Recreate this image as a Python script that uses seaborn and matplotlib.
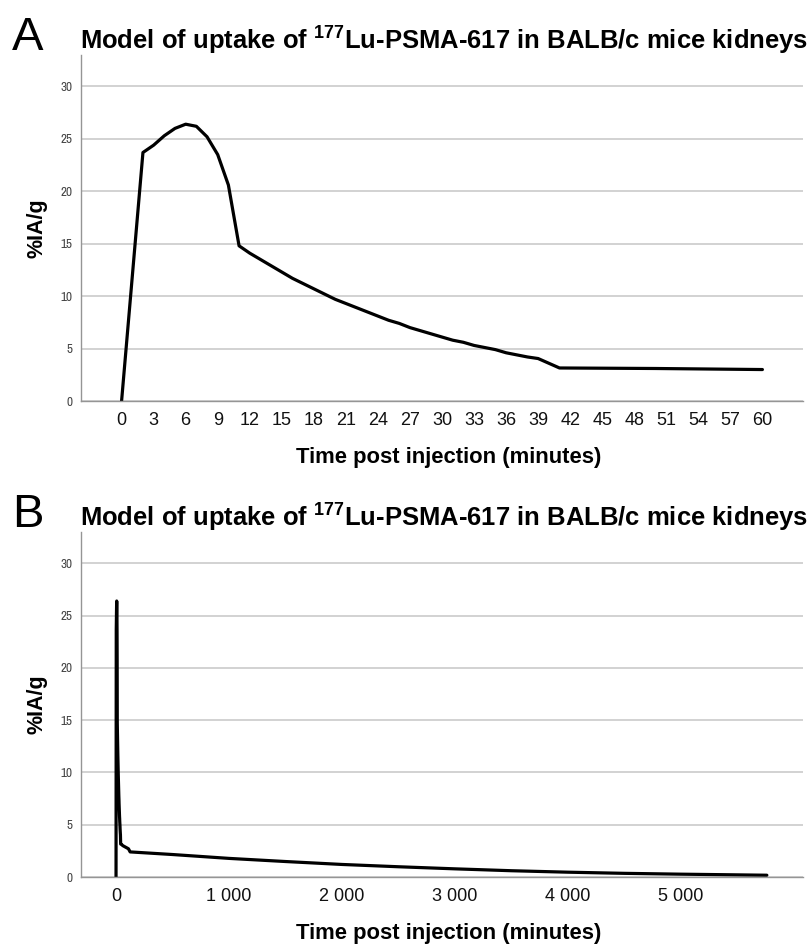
import numpy as np
import pandas as pd
import matplotlib
matplotlib.use('Agg')
import matplotlib.pyplot as plt
import matplotlib.font_manager as fm
import seaborn as sns

# panel A: first hour (minutes, %IA/g)
time_a = [0, 2, 3, 4, 5, 6, 7, 8, 9, 10, 11, 12, 13, 14, 15, 16, 17, 18, 19, 20,
          21, 22, 23, 24, 25, 26, 27, 28, 29, 30, 31, 32, 33, 34, 35, 36, 37, 38, 39,
          40, 41, 50, 60]
uptake_a = [0.0, 23.7, 24.4, 25.3, 26.0, 26.4, 26.2, 25.2, 23.5, 20.6, 14.8, 14.1, 13.5,
            12.9, 12.3, 11.7, 11.2, 10.7, 10.2, 9.7, 9.3, 8.9, 8.5, 8.1, 7.7, 7.4, 7.0,
            6.7, 6.4, 6.1, 5.8, 5.6, 5.3, 5.1, 4.9, 4.6, 4.4, 4.2, 4.05, 3.6, 3.15, 3.1, 3.0]

# panel B: later points appended to the first hour
time_b_tail = [110, 125, 500, 1000, 1500, 2000, 2500, 3000, 3500, 4000, 4500, 5000, 5760]
uptake_b_tail = [2.7, 2.4, 2.15, 1.78, 1.48, 1.2, 0.98, 0.78, 0.6, 0.46, 0.35, 0.27, 0.17]

xticks_a = list(range(0, 61, 3))
xticks_b = [0, 1000, 2000, 3000, 4000, 5000]
yticks = [0, 5, 10, 15, 20, 25, 30]

title = 'Model of uptake of $^{177}$Lu-PSMA-617 in BALB/c mice kidneys'
xlabel = 'Time post injection (minutes)'
ylabel = '%IA/g'

df_a = pd.DataFrame({'t': time_a, 'v': uptake_a})
df_b = pd.DataFrame({'t': time_a + time_b_tail, 'v': uptake_a + uptake_b_tail})


def pick(cands):
    avail = {f.name for f in fm.fontManager.ttflist}
    for c in cands:
        if c in avail:
            return c
    return 'DejaVu Sans'


narrow_name = pick(['Liberation Sans Narrow', 'Archivo Narrow', 'PT Sans Narrow',
                    'Roboto Condensed', 'Pragati Narrow', 'Sofia Sans Condensed'])
arial_name = pick(['Liberation Sans', 'Arimo', 'DejaVu Sans'])
narrow = [narrow_name, 'DejaVu Sans']
arial = [arial_name, 'DejaVu Sans']

sns.set_style('white')
plt.rcParams['font.family'] = arial
plt.rcParams['text.color'] = 'black'
plt.rcParams['axes.labelcolor'] = 'black'
plt.rcParams['mathtext.fontset'] = 'custom'
plt.rcParams['mathtext.rm'] = arial_name + ':bold'
plt.rcParams['mathtext.it'] = arial_name + ':bold'
plt.rcParams['mathtext.bf'] = arial_name + ':bold'

fig = plt.figure(figsize=(8.11, 9.47), dpi=100)
ax_a = fig.add_axes([81 / 811, 1 - 401 / 947, 722 / 811, 346 / 947])
ax_b = fig.add_axes([81 / 811, 1 - 877 / 947, 722 / 811, 345 / 947])


def style_axes(ax):
    ax.set_ylim(0, 33)
    ax.set_yticks(yticks)
    ax.yaxis.grid(True, color='#d2d2d2', linewidth=1.4)
    ax.set_axisbelow(True)
    for s in ['top', 'right']:
        ax.spines[s].set_visible(False)
    for s in ['left', 'bottom']:
        ax.spines[s].set_color('#959595')
        ax.spines[s].set_linewidth(1.0)
    ax.tick_params(axis='y', length=0, pad=6, labelsize=9.5, labelcolor='#444444')
    ax.tick_params(axis='x', length=0, pad=8, labelsize=13, labelcolor='#111111')
    for lab in ax.get_yticklabels():
        lab.set_family(narrow)
    ax.set_ylabel(ylabel, fontsize=15.5, fontweight='bold')
    ax.yaxis.set_label_coords(-0.047, 0.5)
    ax.set_xlabel(xlabel, fontsize=15, fontweight='bold')


# panel A
sns.lineplot(data=df_a, x='t', y='v', ax=ax_a, color='black', linewidth=2.3,
             estimator=None, sort=False)
ax_a.set_xlim(-3.8, 63.8)
ax_a.set_xticks(xticks_a)
ax_a.set_xticklabels([str(t) for t in xticks_a])
style_axes(ax_a)
fig.text(12 / 811, 1 - 50 / 947, 'A', fontsize=34)

# panel B
sns.lineplot(data=df_b, x='t', y='v', ax=ax_b, color='black', linewidth=2.3,
             estimator=None, sort=False)
ax_b.set_xlim(-310, 6080)
ax_b.set_xticks(xticks_b)
ax_b.set_xticklabels([f'{t:,}'.replace(',', ' ') for t in xticks_b])
style_axes(ax_b)
fig.text(12 / 811, 1 - 527 / 947, 'B', fontsize=34)

# scale titles and axis labels to the widths measured on the reference
renderer = fig.canvas.get_renderer()
for ax in [ax_a, ax_b]:
    t = ax.set_title(title, fontsize=19, fontweight='bold', pad=4, x=0.503)
    w = t.get_window_extent(renderer).width
    t.set_fontsize(19 * 728 / w)
    xl = ax.xaxis.label
    w = xl.get_window_extent(renderer).width
    xl.set_fontsize(15 * 307 / w)
    ax.xaxis.set_label_coords(0.509, -0.133)
    xl.set_va('top')

fig.savefig('out.png', dpi=100)
